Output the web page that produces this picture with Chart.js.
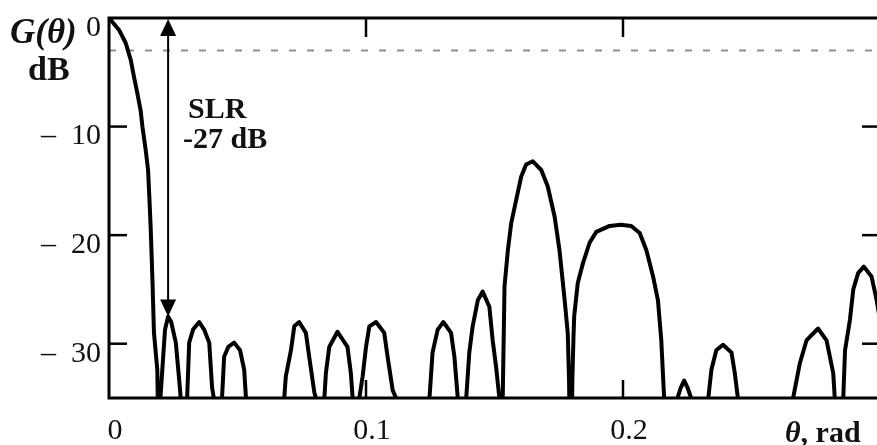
<!DOCTYPE html>
<html><head><meta charset="utf-8">
<script src="https://cdn.jsdelivr.net/npm/chart.js@4"></script>
<style>
html,body{margin:0;padding:0;overflow:hidden;background:#fff;width:877px;height:445px}
#wrap{position:relative;width:884px;height:445px}
</style>
</head><body><div id="wrap"><canvas id="c" width="884" height="445"></canvas></div>
<script>
// θ (rad) sample positions and G(θ) in dB
const thetaRad = [
  0, 0.0039, 0.0065, 0.0085, 0.0097, 0.0110, 0.0123, 0.0130, 0.0143, 0.0152, 0.0157, 0.0162, 0.0169, 0.0175, 0.0188, 0.0196,
  0.0200, 0.0210, 0.0218, 0.0230, 0.0242, 0.0260, 0.0273, 0.0279, 0.0291,
  0.0304, 0.0312, 0.0327, 0.0351, 0.0370, 0.0390, 0.0401, 0.0409, 0.0425,
  0.0440, 0.0448, 0.0464, 0.0487, 0.0510, 0.0526, 0.0533, 0.0550, 0.0665,
  0.0682, 0.0688, 0.0708, 0.0721, 0.0740, 0.0766, 0.0779, 0.0799, 0.0805, 0.0822,
  0.0838, 0.0844, 0.0857, 0.0889, 0.0928, 0.0941, 0.0948, 0.0961,
  0.0974, 0.0987, 0.1000, 0.1013, 0.1039, 0.1071, 0.1084, 0.1104, 0.1117, 0.1135, 0.1230,
  0.1247, 0.1259, 0.1279, 0.1301, 0.1331, 0.1344, 0.1357, 0.1374,
  0.1390, 0.1402, 0.1415, 0.1435, 0.1454, 0.1480, 0.1493, 0.1506, 0.1519, 0.1526,
  0.1532, 0.1539, 0.1552, 0.1565, 0.1584, 0.1604, 0.1623, 0.1649, 0.1682, 0.1707, 0.1734, 0.1753, 0.1773, 0.1785, 0.1790, 0.1797,
  0.1803, 0.1807, 0.1810, 0.1824, 0.1844, 0.1870, 0.1896, 0.1948, 0.1991, 0.2032, 0.2065, 0.2091, 0.2117, 0.2136, 0.2149, 0.2160, 0.2175,
  0.2212, 0.2224, 0.2238, 0.2252, 0.2265, 0.2290,
  0.2331, 0.2344, 0.2363, 0.2389, 0.2422, 0.2435, 0.2448, 0.2465, 0.2645,
  0.2662, 0.2688, 0.2714, 0.2759, 0.2792, 0.2818, 0.2824, 0.2838,
  0.2857, 0.2864, 0.2883, 0.2896, 0.2915, 0.2937, 0.2967, 0.2987, 0.3000
];
const gainDb = [
  0, -1.1, -2.3, -3.9, -5.4, -6.9, -8.5, -10.0, -12.2, -14.0, -16.5, -19.2, -24.1, -29.0, -32.4, -45,
  -35, -31.5, -28.7, -27.5, -28.0, -29.9, -33.3, -35, -45,
  -35, -29.9, -28.7, -28.0, -28.7, -29.9, -34.0, -35.2, -45,
  -34.9, -31.2, -30.3, -29.9, -30.6, -32.4, -35, -45, -45,
  -35, -33.0, -30.6, -28.4, -28.0, -29.0, -31.2, -34.5, -35, -45,
  -35, -32.7, -30.3, -28.9, -30.3, -32.7, -35, -45,
  -35, -33.0, -30.3, -28.4, -28.0, -29.0, -31.2, -34.3, -35, -45, -45,
  -35, -30.8, -28.7, -28.0, -29.0, -31.2, -35, -45,
  -35, -30.8, -28.4, -26.0, -25.2, -26.6, -29.7, -32.1, -35, -45,
  -35, -24.7, -21.4, -18.9, -16.8, -14.6, -13.5, -13.2, -14.0, -15.5, -18.3, -21.4, -26.0, -29.0, -33.3, -45,
  -33.3, -29.7, -27.5, -24.4, -22.6, -20.7, -19.7, -19.15, -19.05, -19.15, -19.8, -21.4, -23.8, -26.0, -29.7, -35, -45,
  -35, -34.1, -33.4, -34.1, -35, -45,
  -35.2, -32.4, -30.6, -30.1, -30.8, -32.7, -35.2, -45, -45,
  -35, -31.8, -29.7, -28.6, -29.7, -32.7, -35, -45,
  -35, -30.6, -27.8, -25.0, -23.5, -22.9, -23.8, -26.0, -27.8
];
const xTicks = [0, 0.1, 0.2];
const yTicks = [0, -10, -20, -30];
const halfPowerDb = -3;
const slrTheta = 0.023;
const slrTopDb = 0;
const slrBottomDb = -27.5;
const slrLines = ['SLR', '-27 dB'];

const serif = "'Liberation Serif', 'Times New Roman', serif";

const framePlugin = {
  id: 'frame',
  afterDatasetsDraw(chart) {
    const ctx = chart.ctx;
    const {left, right, top, bottom} = chart.chartArea;
    const xs = chart.scales.x, ys = chart.scales.y;
    ctx.save();
    ctx.strokeStyle = '#000';
    ctx.lineWidth = 3;
    ctx.strokeRect(left, top, right - left, bottom - top);
    ctx.lineWidth = 2.5;
    const seg = (a, b, c, d) => { ctx.beginPath(); ctx.moveTo(a, b); ctx.lineTo(c, d); ctx.stroke(); };
    yTicks.forEach(v => {
      if (v === 0) return;
      const py = ys.getPixelForValue(v);
      seg(left, py, left + 18, py);
      seg(right - 18, py, right, py);
    });
    xTicks.forEach(v => {
      if (v === 0) return;
      const px = xs.getPixelForValue(v);
      seg(px, top, px, top + 19);
      seg(px, bottom - 18, px, bottom);
    });
    // SLR arrow
    const ax = xs.getPixelForValue(slrTheta);
    const at = ys.getPixelForValue(slrTopDb) + 1;
    const ab = ys.getPixelForValue(slrBottomDb);
    ctx.lineWidth = 2;
    seg(ax, at + 10, ax, ab - 10);
    ctx.fillStyle = '#000';
    ctx.beginPath(); ctx.moveTo(ax, at); ctx.lineTo(ax - 8, at + 17); ctx.lineTo(ax + 8, at + 17); ctx.closePath(); ctx.fill();
    ctx.beginPath(); ctx.moveTo(ax, ab); ctx.lineTo(ax - 8, ab - 17); ctx.lineTo(ax + 8, ab - 17); ctx.closePath(); ctx.fill();
    // texts
    ctx.fillStyle = '#111';
    ctx.textBaseline = 'alphabetic';
    ctx.textAlign = 'left';
    ctx.font = 'bold 30px ' + serif;
    ctx.fillText(slrLines[0], 188, 118);
    ctx.fillText(slrLines[1], 183, 148);
    ctx.font = 'italic bold 35px ' + serif;
    ctx.fillText('G(θ)', 10, 43);
    ctx.font = 'bold 34px ' + serif;
    ctx.fillText('dB', 28, 80);
    ctx.font = 'italic bold 30px ' + serif;
    ctx.fillText('θ', 785, 442);
    const w = ctx.measureText('θ').width;
    ctx.font = 'bold 30px ' + serif;
    ctx.fillText(', rad', 785 + w, 442);
    ctx.restore();
  }
};

const curve = thetaRad.map((t, i) => ({x: t, y: gainDb[i]}));
const halfPowerLine = [{x: 0, y: halfPowerDb}, {x: 0.3, y: halfPowerDb}];

new Chart(document.getElementById('c'), {
  type: 'line',
  data: {
    datasets: [
      {data: curve, borderColor: '#000', borderWidth: 4, pointRadius: 0, tension: 0, fill: false, clip: 0, borderJoinStyle: 'round'},
      {data: halfPowerLine, borderColor: '#8f8f8f', borderWidth: 2, borderDash: [7, 11], pointRadius: 0, fill: false, clip: 0}
    ]
  },
  options: {
    responsive: false,
    animation: false,
    devicePixelRatio: 1,
    layout: {padding: {top: 18, right: 4, left: 0, bottom: 0}},
    plugins: {legend: {display: false}, tooltip: {enabled: false}},
    scales: {
      x: {
        type: 'linear', min: 0, max: 0.3,
        afterBuildTicks: s => { s.ticks = xTicks.map(v => ({value: v})); },
        afterFit: s => { s.height = 47; },
        grid: {display: false, drawTicks: false},
        border: {display: false},
        ticks: {
          autoSkip: false, maxRotation: 0, padding: 18, labelOffset: 6, color: '#111',
          font: {family: serif, size: 30, lineHeight: 1},
          callback: v => v === 0 ? '0' : Number(v).toFixed(1)
        }
      },
      y: {
        type: 'linear', min: -35, max: 0,
        afterBuildTicks: s => { s.ticks = yTicks.map(v => ({value: v})); },
        afterFit: s => { s.width = 109; },
        grid: {display: false, drawTicks: false},
        border: {display: false},
        ticks: {
          autoSkip: false, padding: 8, labelOffset: 10, color: '#111',
          font: {family: serif, size: 30, lineHeight: 0.5},
          callback: v => v === 0 ? '0' : '–  ' + Math.abs(v)
        }
      }
    }
  },
  plugins: [framePlugin]
});
</script>
</body></html>
